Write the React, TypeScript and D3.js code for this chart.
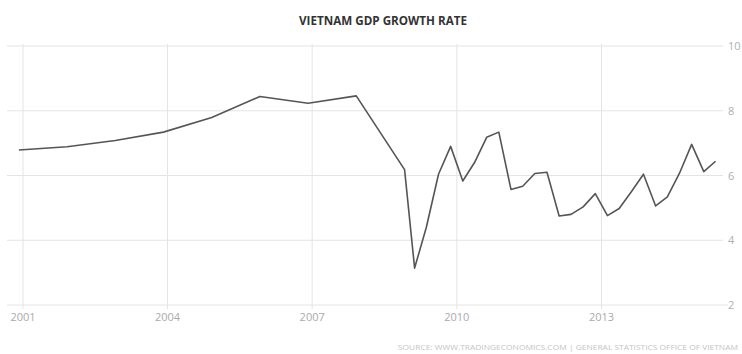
import React from "react";
import * as d3 from "d3";

const annualYears = [2000, 2001, 2002, 2003, 2004, 2005, 2006, 2007, 2008];
const annualValues = [6.79, 6.89, 7.08, 7.34, 7.79, 8.44, 8.23, 8.46, 6.18];

const quarterLabels = [
  "2009Q1", "2009Q2", "2009Q3", "2009Q4",
  "2010Q1", "2010Q2", "2010Q3", "2010Q4",
  "2011Q1", "2011Q2", "2011Q3", "2011Q4",
  "2012Q1", "2012Q2", "2012Q3", "2012Q4",
  "2013Q1", "2013Q2", "2013Q3", "2013Q4",
  "2014Q1", "2014Q2", "2014Q3", "2014Q4",
  "2015Q1", "2015Q2",
];
const quarterValues = [
  3.14, 4.4, 6.04, 6.9,
  5.83, 6.4, 7.18, 7.34,
  5.57, 5.67, 6.06, 6.1,
  4.75, 4.8, 5.03, 5.44,
  4.76, 4.98, 5.5, 6.04,
  5.06, 5.34, 6.07, 6.96,
  6.12, 6.44,
];

const xTickYears = [2001, 2004, 2007, 2010, 2013];
const yTicks = [2, 4, 6, 8, 10];

const title = "VIETNAM GDP GROWTH RATE";
const source = "SOURCE: WWW.TRADINGECONOMICS.COM | GENERAL STATISTICS OFFICE OF VIETNAM";

type Pt = { date: Date; value: number };

export default function App() {
  const W = 742;
  const H = 354;
  const left = 7;
  const right = 723;

  const x = d3
    .scaleTime()
    .domain([new Date(2001, 0, 1), new Date(2013, 0, 1)])
    .range([23, 601.5]);
  const y = d3.scaleLinear().domain([2, 10]).range([305, 46]);

  const data: Pt[] = [
    ...annualYears.map((yr, i) => ({ date: new Date(yr, 11, 1), value: annualValues[i] })),
    ...quarterLabels.map((lab, i) => {
      const yr = +lab.slice(0, 4);
      const q = +lab.slice(5);
      return { date: new Date(yr, (q - 1) * 3 + 1, 15), value: quarterValues[i] };
    }),
  ];

  const line = d3
    .line<Pt>()
    .x((d) => x(d.date))
    .y((d) => y(d.value));

  const font = "'Open Sans', 'DejaVu Sans', sans-serif";

  return (
    <svg
      width={W}
      height={H}
      style={{ position: "absolute", left: 0, top: 0, background: "#fff" }}
    >
      <text
        x={383}
        y={25}
        textAnchor="middle"
        fontFamily={font}
        fontWeight="bold"
        fontSize={12}
        fill="#333"
        textLength={168}
        lengthAdjust="spacingAndGlyphs"
      >
        {title}
      </text>

      {yTicks.map((t) => (
        <g key={"y" + t}>
          <line
            x1={left}
            x2={t === 2 ? 728 : right}
            y1={y(t)}
            y2={y(t)}
            stroke="#e4e4e4"
            strokeWidth={1}
          />
          <text
            x={728}
            y={y(t) + 4}
            fontFamily={font}
            fontSize={11}
            fill="#b0b0b0"
          >
            {t}
          </text>
        </g>
      ))}

      {xTickYears.map((yr) => {
        const xv = x(new Date(yr, 0, 1));
        return (
          <g key={"x" + yr}>
            <line
              x1={xv}
              x2={xv}
              y1={y(10) - 2}
              y2={y(2) + 4}
              stroke="#e4e4e4"
              strokeWidth={1}
            />
            <text
              x={xv}
              y={321}
              textAnchor="middle"
              fontFamily={font}
              fontSize={11}
              fill="#aaa"
            >
              {yr}
            </text>
          </g>
        );
      })}

      <path
        d={line(data) || ""}
        fill="none"
        stroke="#555"
        strokeWidth={1.6}
        strokeLinejoin="round"
      />

      <text
        x={738}
        y={350}
        textAnchor="end"
        fontFamily={font}
        fontSize={8}
        fill="#c4c4c4"
        textLength={340}
        lengthAdjust="spacingAndGlyphs"
      >
        {source}
      </text>
    </svg>
  );
}
